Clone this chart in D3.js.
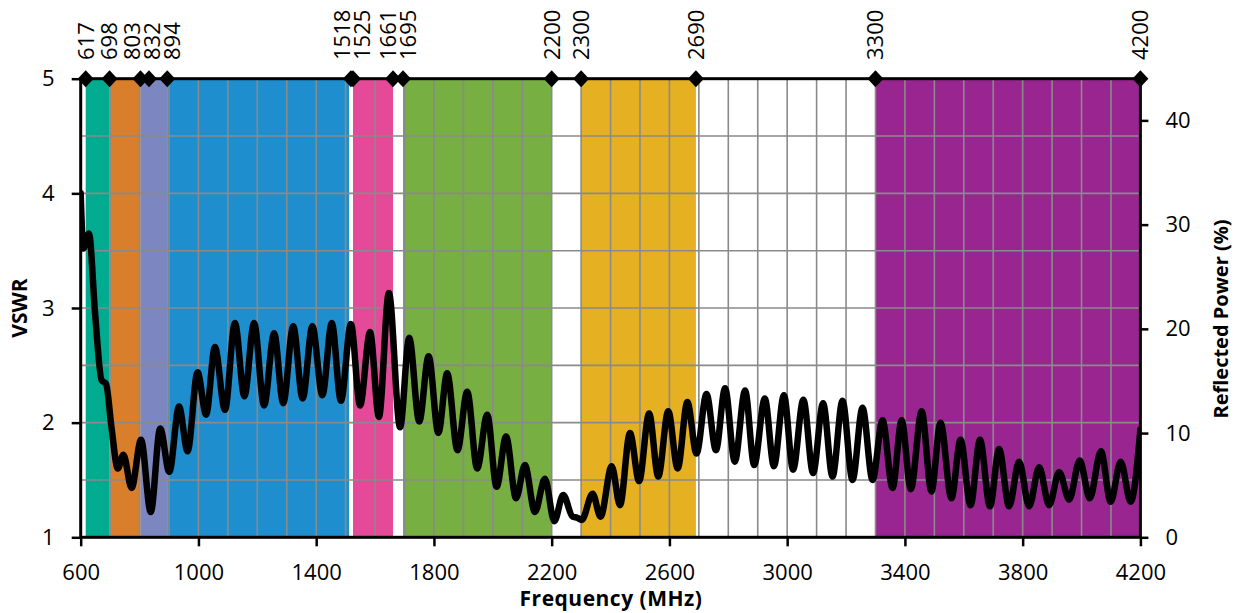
<!DOCTYPE html>
<html>
<head>
<meta charset="utf-8">
<script src="https://cdn.jsdelivr.net/npm/d3@7"></script>
<style>
  html, body { margin: 0; padding: 0; background: #fff; }
  svg { display: block; }
  text { font-family: "Open Sans", "Liberation Sans", sans-serif; }
</style>
</head>
<body>
<svg id="chart" width="1238" height="613"></svg>
<script>
// ---- data ----
const freqMHz = [600,609,628,649,671,686,705,726,745,773,805,838,870,901,934,963,997,1026,1056,1090,1124,1156,1189,1223,1257,1288,1322,1354,1387,1421,1453,1484,1518,1549,1583,1613,1647,1685,1716,1750,1782,1815,1845,1880,1913,1947,1981,2013,2045,2079,2109,2143,2177,2209,2239,2271,2287,2302,2339,2366,2404,2432,2466,2497,2531,2562,2596,2628,2661,2692,2726,2758,2789,2822,2857,2888,2924,2955,2989,3020,3055,3088,3122,3154,3188,3222,3256,3290,3324,3358,3389,3420,3457,3490,3521,3558,3589,3623,3655,3689,3720,3754,3788,3822,3856,3890,3924,3958,3994,4028,4066,4099,4133,4167,4200];
const vswrValues = [4.00,3.52,3.65,2.95,2.37,2.34,1.95,1.60,1.72,1.43,1.85,1.22,1.95,1.57,2.14,1.75,2.44,2.07,2.66,2.11,2.87,2.23,2.87,2.15,2.78,2.17,2.84,2.21,2.84,2.24,2.87,2.19,2.86,2.15,2.79,2.05,3.13,1.96,2.74,2.01,2.58,1.91,2.43,1.76,2.27,1.60,2.07,1.44,1.88,1.34,1.63,1.22,1.51,1.14,1.37,1.18,1.17,1.15,1.38,1.18,1.62,1.28,1.91,1.49,2.08,1.53,2.10,1.60,2.18,1.73,2.25,1.76,2.30,1.66,2.28,1.63,2.21,1.62,2.24,1.59,2.20,1.56,2.17,1.53,2.19,1.50,2.13,1.50,2.02,1.43,2.02,1.42,2.10,1.40,2.00,1.34,1.85,1.28,1.85,1.27,1.77,1.27,1.66,1.27,1.61,1.28,1.57,1.33,1.67,1.34,1.75,1.31,1.66,1.31,1.94];

const bandStart = [617, 698, 803, 894, 1525, 1695, 2300, 3300];
const bandEnd   = [698, 803, 894, 1512, 1661, 2200, 2690, 4200];
const bandColors = ["#00ab8f", "#d97e2b", "#7c86c0", "#1f8ecf", "#e44a98", "#77af43", "#e5b022", "#992690"];

const markerFreqs = [617, 698, 803, 832, 894, 1518, 1525, 1661, 1695, 2200, 2300, 2690, 3300, 4200];
const xTicks = [600, 1000, 1400, 1800, 2200, 2600, 3000, 3400, 3800, 4200];
const yTicks = [1, 2, 3, 4, 5];
const powerTicks = [0, 10, 20, 30, 40];

// ---- layout ----
const L = 80.7, R = 1140.4, T = 78.7, B = 537.3;
const svg = d3.select("#chart");
const x = d3.scaleLinear().domain([600, 4200]).range([L, R]);
const y = d3.scaleLinear().domain([1, 5]).range([B, T]);
const yR = d3.scaleLinear().domain([0, 44]).range([B, T]);
const FONT = "'Open Sans', sans-serif";

// bands
svg.append("g").selectAll("rect")
  .data(bandStart.map((s, i) => ({s, e: bandEnd[i], c: bandColors[i]})))
  .join("rect")
  .attr("x", d => x(d.s)).attr("width", d => x(d.e) - x(d.s))
  .attr("y", y(5)).attr("height", y(1) - y(5))
  .attr("fill", d => d.c);

// grid
const grid = svg.append("g").attr("stroke", "#8a8a8a").attr("stroke-width", 1.6);
grid.selectAll("line.v").data(d3.range(700, 4200, 100)).join("line")
  .attr("x1", d => x(d)).attr("x2", d => x(d)).attr("y1", y(5)).attr("y2", y(1));
grid.selectAll("line.h").data(d3.range(1.5, 5, 0.5)).join("line")
  .attr("y1", d => y(d)).attr("y2", d => y(d)).attr("x1", x(600)).attr("x2", x(4200));

// curve
svg.append("clipPath").attr("id", "clip").append("rect")
  .attr("x", L).attr("y", T - 4).attr("width", R - L).attr("height", B - T + 4);
const line = d3.line().x(d => x(d[0])).y(d => y(d[1])).curve(d3.curveMonotoneX);
svg.append("path")
  .datum(freqMHz.map((f, i) => [f, vswrValues[i]]))
  .attr("d", line)
  .attr("fill", "none").attr("stroke", "#000").attr("stroke-width", 6.5)
  .attr("stroke-linejoin", "round").attr("stroke-linecap", "round")
  .attr("clip-path", "url(#clip)");

// spines
svg.append("rect").attr("x", L).attr("y", T).attr("width", R - L).attr("height", B - T)
  .attr("fill", "none").attr("stroke", "#000").attr("stroke-width", 3);

// axes
const fs = "22px";
const xAxis = svg.append("g").attr("transform", `translate(0,${B})`)
  .call(d3.axisBottom(x).tickValues(xTicks).tickSize(9).tickSizeOuter(0).tickFormat(d3.format("d")));
xAxis.select(".domain").remove();
xAxis.selectAll(".tick line").attr("stroke", "#000").attr("stroke-width", 2.5);
xAxis.selectAll(".tick text").attr("font-size", fs).attr("fill", "#000")
  .attr("y", 43).attr("dy", null).attr("font-family", FONT);

const yAxis = svg.append("g").attr("transform", `translate(${L},0)`)
  .call(d3.axisLeft(y).tickValues(yTicks).tickSize(9).tickSizeOuter(0).tickFormat(d3.format("d")));
yAxis.select(".domain").remove();
yAxis.selectAll(".tick line").attr("stroke", "#000").attr("stroke-width", 2.5);
yAxis.selectAll(".tick text").attr("font-size", fs).attr("fill", "#000").attr("x", -26)
  .attr("font-family", FONT);

const rAxis = svg.append("g").attr("transform", `translate(${R},0)`)
  .call(d3.axisRight(yR).tickValues(powerTicks).tickSize(8).tickSizeOuter(0).tickFormat(d3.format("d")));
rAxis.select(".domain").remove();
rAxis.selectAll(".tick line").attr("stroke", "#000").attr("stroke-width", 2.5);
rAxis.selectAll(".tick text").attr("font-size", fs).attr("fill", "#000").attr("x", 25)
  .attr("font-family", FONT);

// axis titles
svg.append("text").attr("x", 611).attr("y", 606).attr("text-anchor", "middle")
  .attr("font-size", "21px").attr("font-weight", "bold").attr("letter-spacing", "0.5px")
  .text("Frequency (MHz)");
svg.append("text").attr("transform", "translate(27,308) rotate(-90)").attr("text-anchor", "middle")
  .attr("font-size", "21px").attr("font-weight", "bold").text("VSWR");
svg.append("text").attr("transform", "translate(1228,319) rotate(-90)").attr("text-anchor", "middle")
  .attr("font-size", "20px").attr("font-weight", "bold").text("Reflected Power (%)");

// markers
svg.append("g").selectAll("path").data(markerFreqs).join("path")
  .attr("transform", d => `translate(${x(d)},${y(5)})`)
  .attr("d", "M0,-8.5L8,0L0,8.5L-8,0Z").attr("fill", "#000");

// label positions: spread overlapping labels apart around their group centre
const GAP = 20;
let groups = markerFreqs.map(f => ({orig: [x(f)]}));
const place = g => {
  const c = d3.mean(g.orig), n = g.orig.length;
  g.pos = g.orig.map((_, i) => c + GAP * (i - (n - 1) / 2));
};
groups.forEach(place);
let merged = true;
while (merged) {
  merged = false;
  for (let i = 0; i < groups.length - 1; i++) {
    const a = groups[i], b = groups[i + 1];
    if (b.pos[0] - a.pos[a.pos.length - 1] < GAP) {
      const g = {orig: a.orig.concat(b.orig)};
      place(g);
      groups.splice(i, 2, g);
      merged = true;
      break;
    }
  }
}
const labelX = groups.flatMap(g => g.pos);

svg.append("g").selectAll("text").data(markerFreqs).join("text")
  .attr("transform", (d, i) => `translate(${labelX[i]},60) rotate(-90)`)
  .attr("dy", "0.36em").attr("text-anchor", "start")
  .attr("font-size", "22px").attr("fill", "#000").text(d => d);
</script>
</body>
</html>
